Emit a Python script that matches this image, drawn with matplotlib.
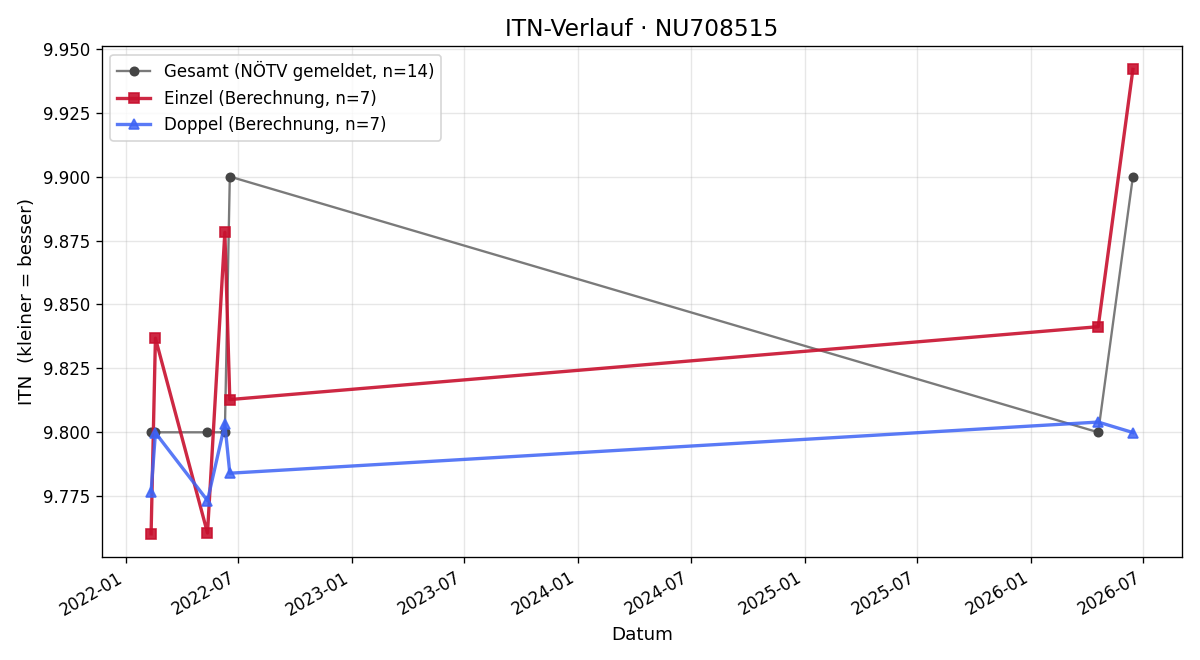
from datetime import datetime
import matplotlib
matplotlib.use("Agg")
import matplotlib.dates as mdates
import matplotlib.pyplot as plt

dates = ["2022-02-11", "2022-02-18", "2022-05-13", "2022-06-10",
         "2022-06-18", "2026-04-19", "2026-06-14"]
gesamt = [9.800, 9.800, 9.800, 9.800, 9.900, 9.800, 9.900]
einzel = [9.7603, 9.8368, 9.7606, 9.8782, 9.8128, 9.8413, 9.9419]
doppel = [9.7767, 9.7998, 9.7733, 9.8032, 9.7840, 9.8040, 9.7999]

x = [datetime.strptime(d, "%Y-%m-%d") for d in dates]

fig, ax = plt.subplots(figsize=(10, 5.5), dpi=120)

ax.plot(x, gesamt, "-o", color="#7a7a7a", mfc="#454545", mec="#454545",
        lw=1.4, ms=5, label="Gesamt (NÖTV gemeldet, n=14)", zorder=2)
ax.plot(x, einzel, "-s", color="#c8102e", alpha=0.9, lw=2, ms=6,
        label="Einzel (Berechnung, n=7)", zorder=3)
ax.plot(x, doppel, "-^", color="#3d63f5", alpha=0.85, lw=2, ms=6,
        label="Doppel (Berechnung, n=7)", zorder=3)

ax.set_title("ITN-Verlauf · NU708515", fontsize=14)
ax.set_xlabel("Datum", fontsize=11)
ax.set_ylabel("ITN  (kleiner = besser)", fontsize=11)

ax.xaxis.set_major_locator(mdates.MonthLocator(bymonth=[1, 7]))
ax.xaxis.set_major_formatter(mdates.DateFormatter("%Y-%m"))
ax.yaxis.set_major_formatter(matplotlib.ticker.FormatStrFormatter("%.3f"))

ax.grid(True, alpha=0.3)
ax.legend(loc="upper left")
fig.autofmt_xdate()
fig.subplots_adjust(left=0.085, right=0.985, top=0.930, bottom=0.156)

plt.savefig("out.png")
